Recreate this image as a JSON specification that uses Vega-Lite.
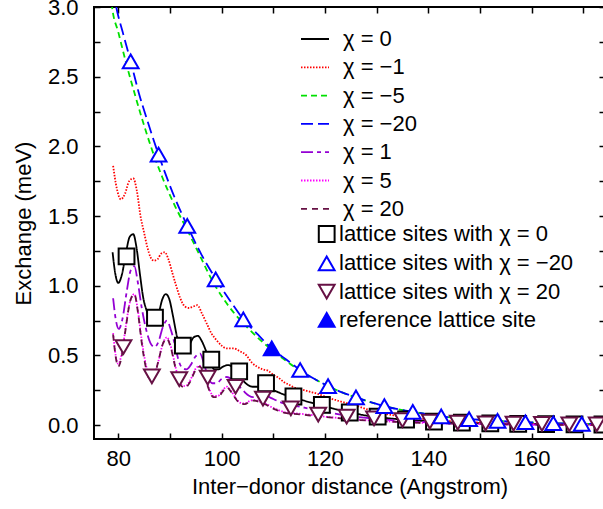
{
  "$schema": "https://vega.github.io/schema/vega-lite/v6.json",
  "width": 511,
  "height": 432,
  "autosize": "none",
  "padding": {"left": 94, "top": 7, "right": 0, "bottom": 70},
  "background": "white",
  "config": {
    "font": "Liberation Sans",
    "view": {"stroke": "black", "strokeWidth": 2},
    "axis": {"grid": false, "domain": false, "labelColor": "black", "tickColor": "black", "titleColor": "black", "labelFont": "Liberation Sans", "titleFont": "Liberation Sans", "labelFontSize": 22, "titleFontSize": 22, "titleFontWeight": "normal", "tickSize": -6, "tickWidth": 1.5, "labelOverlap": false, "labelFlush": false},
    "legend": {"labelFont": "Liberation Sans", "labelFontSize": 22, "labelColor": "black", "padding": 0, "labelLimit": 0}
  },
  "datasets": {
    "lines": [
      {"s":"χ = 0","x":78.9,"y":1.24},{"s":"χ = 0","x":79.4,"y":1.09},{"s":"χ = 0","x":80.0,"y":1.02},{"s":"χ = 0","x":80.7,"y":1.08},{"s":"χ = 0","x":81.5,"y":1.24},{"s":"χ = 0","x":82.2,"y":1.35},{"s":"χ = 0","x":82.9,"y":1.37},{"s":"χ = 0","x":83.5,"y":1.28},{"s":"χ = 0","x":84.2,"y":1.08},{"s":"χ = 0","x":84.8,"y":0.92},{"s":"χ = 0","x":85.5,"y":0.82},{"s":"χ = 0","x":86.3,"y":0.76},{"s":"χ = 0","x":87.0,"y":0.75},{"s":"χ = 0","x":87.8,"y":0.8},{"s":"χ = 0","x":88.5,"y":0.9},{"s":"χ = 0","x":89.2,"y":0.94},{"s":"χ = 0","x":89.9,"y":0.9},{"s":"χ = 0","x":90.6,"y":0.78},{"s":"χ = 0","x":91.4,"y":0.63},{"s":"χ = 0","x":92.2,"y":0.56},{"s":"χ = 0","x":93.0,"y":0.55},{"s":"χ = 0","x":93.8,"y":0.58},{"s":"χ = 0","x":94.6,"y":0.63},{"s":"χ = 0","x":95.4,"y":0.64},{"s":"χ = 0","x":96.2,"y":0.6},{"s":"χ = 0","x":97.0,"y":0.53},{"s":"χ = 0","x":97.8,"y":0.45},{"s":"χ = 0","x":98.6,"y":0.4},{"s":"χ = 0","x":99.4,"y":0.4},{"s":"χ = 0","x":100.3,"y":0.42},{"s":"χ = 0","x":101.2,"y":0.43},{"s":"χ = 0","x":102.0,"y":0.42},{"s":"χ = 0","x":102.8,"y":0.39},{"s":"χ = 0","x":103.6,"y":0.35},{"s":"χ = 0","x":104.4,"y":0.31},{"s":"χ = 0","x":105.2,"y":0.285},{"s":"χ = 0","x":106.0,"y":0.275},{"s":"χ = 0","x":107.0,"y":0.275},{"s":"χ = 0","x":108.0,"y":0.275},{"s":"χ = 0","x":109.0,"y":0.265},{"s":"χ = 0","x":110.0,"y":0.25},{"s":"χ = 0","x":111.0,"y":0.235},{"s":"χ = 0","x":112.0,"y":0.22},{"s":"χ = 0","x":113.0,"y":0.21},{"s":"χ = 0","x":114.0,"y":0.2},{"s":"χ = 0","x":116.0,"y":0.175},{"s":"χ = 0","x":118.0,"y":0.155},{"s":"χ = 0","x":120.0,"y":0.135},{"s":"χ = 0","x":122.0,"y":0.115},{"s":"χ = 0","x":124.0,"y":0.097},{"s":"χ = 0","x":126.0,"y":0.082},{"s":"χ = 0","x":128.0,"y":0.068},{"s":"χ = 0","x":130.0,"y":0.058},{"s":"χ = 0","x":133.0,"y":0.046},{"s":"χ = 0","x":136.0,"y":0.038},{"s":"χ = 0","x":140.0,"y":0.027},{"s":"χ = 0","x":145.0,"y":0.019},{"s":"χ = 0","x":150.0,"y":0.013},{"s":"χ = 0","x":155.0,"y":0.01},{"s":"χ = 0","x":160.0,"y":0.008},{"s":"χ = 0","x":165.0,"y":0.006},{"s":"χ = 0","x":170.0,"y":0.005},{"s":"χ = 0","x":174.2,"y":0.004},

      {"s":"χ = −1","x":79.0,"y":1.86},{"s":"χ = −1","x":79.7,"y":1.7},{"s":"χ = −1","x":80.5,"y":1.62},{"s":"χ = −1","x":81.3,"y":1.66},{"s":"χ = −1","x":82.1,"y":1.75},{"s":"χ = −1","x":82.9,"y":1.77},{"s":"χ = −1","x":83.6,"y":1.68},{"s":"χ = −1","x":84.3,"y":1.5},{"s":"χ = −1","x":85.0,"y":1.38},{"s":"χ = −1","x":85.6,"y":1.28},{"s":"χ = −1","x":86.3,"y":1.2},{"s":"χ = −1","x":86.9,"y":1.18},{"s":"χ = −1","x":87.6,"y":1.19},{"s":"χ = −1","x":88.3,"y":1.23},{"s":"χ = −1","x":89.0,"y":1.24},{"s":"χ = −1","x":89.7,"y":1.19},{"s":"χ = −1","x":90.4,"y":1.1},{"s":"χ = −1","x":91.2,"y":1.0},{"s":"χ = −1","x":92.0,"y":0.91},{"s":"χ = −1","x":92.9,"y":0.85},{"s":"χ = −1","x":93.7,"y":0.84},{"s":"χ = −1","x":94.5,"y":0.85},{"s":"χ = −1","x":95.3,"y":0.86},{"s":"χ = −1","x":96.2,"y":0.8},{"s":"χ = −1","x":97.1,"y":0.73},{"s":"χ = −1","x":98.0,"y":0.66},{"s":"χ = −1","x":99.0,"y":0.61},{"s":"χ = −1","x":100.0,"y":0.57},{"s":"χ = −1","x":101.0,"y":0.55},{"s":"χ = −1","x":102.3,"y":0.55},{"s":"χ = −1","x":103.5,"y":0.53},{"s":"χ = −1","x":104.8,"y":0.5},{"s":"χ = −1","x":105.8,"y":0.45},{"s":"χ = −1","x":106.8,"y":0.42},{"s":"χ = −1","x":108.0,"y":0.4},{"s":"χ = −1","x":109.0,"y":0.39},{"s":"χ = −1","x":110.0,"y":0.36},{"s":"χ = −1","x":111.0,"y":0.34},{"s":"χ = −1","x":112.0,"y":0.31},{"s":"χ = −1","x":113.0,"y":0.29},{"s":"χ = −1","x":114.0,"y":0.27},{"s":"χ = −1","x":115.5,"y":0.255},{"s":"χ = −1","x":117.0,"y":0.24},{"s":"χ = −1","x":118.5,"y":0.225},{"s":"χ = −1","x":120.0,"y":0.205},{"s":"χ = −1","x":122.0,"y":0.18},{"s":"χ = −1","x":124.0,"y":0.16},{"s":"χ = −1","x":126.0,"y":0.14},{"s":"χ = −1","x":128.0,"y":0.115},{"s":"χ = −1","x":130.0,"y":0.095},{"s":"χ = −1","x":132.0,"y":0.078},{"s":"χ = −1","x":134.0,"y":0.065},{"s":"χ = −1","x":136.0,"y":0.055},{"s":"χ = −1","x":140.0,"y":0.04},{"s":"χ = −1","x":145.0,"y":0.027},{"s":"χ = −1","x":150.0,"y":0.018},{"s":"χ = −1","x":155.0,"y":0.012},{"s":"χ = −1","x":160.0,"y":0.008},{"s":"χ = −1","x":165.0,"y":0.005},{"s":"χ = −1","x":170.0,"y":0.003},{"s":"χ = −1","x":174.2,"y":0.002},

      {"s":"χ = −5","x":78.5,"y":3.1},{"s":"χ = −5","x":78.8,"y":3.0},{"s":"χ = −5","x":80.0,"y":2.82},{"s":"χ = −5","x":81.5,"y":2.6},{"s":"χ = −5","x":83.0,"y":2.4},{"s":"χ = −5","x":84.5,"y":2.21},{"s":"χ = −5","x":86.3,"y":2.0},{"s":"χ = −5","x":88.5,"y":1.78},{"s":"χ = −5","x":91.0,"y":1.57},{"s":"χ = −5","x":93.35,"y":1.4},{"s":"χ = −5","x":96.0,"y":1.2},{"s":"χ = −5","x":98.0,"y":1.05},{"s":"χ = −5","x":100.1,"y":0.92},{"s":"χ = −5","x":102.5,"y":0.8},{"s":"χ = −5","x":105.0,"y":0.7},{"s":"χ = −5","x":107.5,"y":0.61},{"s":"χ = −5","x":109.7,"y":0.54},{"s":"χ = −5","x":112.5,"y":0.46},{"s":"χ = −5","x":115.2,"y":0.39},{"s":"χ = −5","x":118.0,"y":0.33},{"s":"χ = −5","x":120.6,"y":0.28},{"s":"χ = −5","x":123.3,"y":0.235},{"s":"χ = −5","x":126.0,"y":0.198},{"s":"χ = −5","x":128.8,"y":0.165},{"s":"χ = −5","x":131.5,"y":0.136},{"s":"χ = −5","x":134.2,"y":0.113},{"s":"χ = −5","x":137.0,"y":0.095},{"s":"χ = −5","x":140.0,"y":0.077},{"s":"χ = −5","x":142.6,"y":0.063},{"s":"χ = −5","x":145.3,"y":0.052},{"s":"χ = −5","x":148.0,"y":0.043},{"s":"χ = −5","x":151.0,"y":0.035},{"s":"χ = −5","x":153.4,"y":0.03},{"s":"χ = −5","x":156.0,"y":0.025},{"s":"χ = −5","x":158.8,"y":0.02},{"s":"χ = −5","x":161.5,"y":0.017},{"s":"χ = −5","x":164.2,"y":0.013},{"s":"χ = −5","x":167.0,"y":0.011},{"s":"χ = −5","x":169.7,"y":0.009},{"s":"χ = −5","x":174.2,"y":0.007},

      {"s":"χ = −20","x":79.0,"y":3.12},{"s":"χ = −20","x":79.6,"y":3.0},{"s":"χ = −20","x":81.0,"y":2.8},{"s":"χ = −20","x":82.4,"y":2.61},{"s":"χ = −20","x":84.0,"y":2.38},{"s":"χ = −20","x":85.5,"y":2.2},{"s":"χ = −20","x":87.8,"y":1.94},{"s":"χ = −20","x":90.5,"y":1.67},{"s":"χ = −20","x":93.35,"y":1.43},{"s":"χ = −20","x":96.0,"y":1.23},{"s":"χ = −20","x":98.85,"y":1.05},{"s":"χ = −20","x":101.5,"y":0.9},{"s":"χ = −20","x":104.2,"y":0.76},{"s":"χ = −20","x":107.0,"y":0.65},{"s":"χ = −20","x":109.7,"y":0.55},{"s":"χ = −20","x":112.5,"y":0.47},{"s":"χ = −20","x":115.2,"y":0.395},{"s":"χ = −20","x":118.0,"y":0.33},{"s":"χ = −20","x":120.6,"y":0.28},{"s":"χ = −20","x":123.3,"y":0.235},{"s":"χ = −20","x":126.0,"y":0.199},{"s":"χ = −20","x":128.8,"y":0.165},{"s":"χ = −20","x":131.5,"y":0.136},{"s":"χ = −20","x":134.2,"y":0.113},{"s":"χ = −20","x":137.0,"y":0.095},{"s":"χ = −20","x":140.0,"y":0.077},{"s":"χ = −20","x":142.6,"y":0.063},{"s":"χ = −20","x":145.3,"y":0.052},{"s":"χ = −20","x":148.0,"y":0.043},{"s":"χ = −20","x":151.0,"y":0.035},{"s":"χ = −20","x":153.4,"y":0.03},{"s":"χ = −20","x":156.0,"y":0.025},{"s":"χ = −20","x":158.8,"y":0.02},{"s":"χ = −20","x":161.5,"y":0.017},{"s":"χ = −20","x":164.2,"y":0.013},{"s":"χ = −20","x":167.0,"y":0.011},{"s":"χ = −20","x":169.7,"y":0.009},{"s":"χ = −20","x":174.2,"y":0.007},

      {"s":"χ = 1","x":79.0,"y":0.91},{"s":"χ = 1","x":79.5,"y":0.76},{"s":"χ = 1","x":80.1,"y":0.69},{"s":"χ = 1","x":80.8,"y":0.76},{"s":"χ = 1","x":81.6,"y":0.95},{"s":"χ = 1","x":82.4,"y":1.11},{"s":"χ = 1","x":83.1,"y":1.14},{"s":"χ = 1","x":83.8,"y":1.02},{"s":"χ = 1","x":84.5,"y":0.85},{"s":"χ = 1","x":85.3,"y":0.7},{"s":"χ = 1","x":86.2,"y":0.59},{"s":"χ = 1","x":87.0,"y":0.56},{"s":"χ = 1","x":87.8,"y":0.6},{"s":"χ = 1","x":88.6,"y":0.7},{"s":"χ = 1","x":89.4,"y":0.75},{"s":"χ = 1","x":90.2,"y":0.68},{"s":"χ = 1","x":91.0,"y":0.57},{"s":"χ = 1","x":91.7,"y":0.46},{"s":"χ = 1","x":92.4,"y":0.41},{"s":"χ = 1","x":93.2,"y":0.4},{"s":"χ = 1","x":94.0,"y":0.43},{"s":"χ = 1","x":94.9,"y":0.49},{"s":"χ = 1","x":95.8,"y":0.515},{"s":"χ = 1","x":96.6,"y":0.44},{"s":"χ = 1","x":97.4,"y":0.34},{"s":"χ = 1","x":98.2,"y":0.3},{"s":"χ = 1","x":99.0,"y":0.3},{"s":"χ = 1","x":100.0,"y":0.33},{"s":"χ = 1","x":101.0,"y":0.345},{"s":"χ = 1","x":101.9,"y":0.33},{"s":"χ = 1","x":102.8,"y":0.3},{"s":"χ = 1","x":103.6,"y":0.27},{"s":"χ = 1","x":104.5,"y":0.235},{"s":"χ = 1","x":105.3,"y":0.21},{"s":"χ = 1","x":106.1,"y":0.2},{"s":"χ = 1","x":107.0,"y":0.205},{"s":"χ = 1","x":108.0,"y":0.21},{"s":"χ = 1","x":108.7,"y":0.21},{"s":"χ = 1","x":109.5,"y":0.195},{"s":"χ = 1","x":110.4,"y":0.18},{"s":"χ = 1","x":111.3,"y":0.165},{"s":"χ = 1","x":112.5,"y":0.15},{"s":"χ = 1","x":114.0,"y":0.14},{"s":"χ = 1","x":116.0,"y":0.125},{"s":"χ = 1","x":118.0,"y":0.11},{"s":"χ = 1","x":120.0,"y":0.095},{"s":"χ = 1","x":123.0,"y":0.075},{"s":"χ = 1","x":126.0,"y":0.06},{"s":"χ = 1","x":130.0,"y":0.045},{"s":"χ = 1","x":135.0,"y":0.03},{"s":"χ = 1","x":140.0,"y":0.02},{"s":"χ = 1","x":145.0,"y":0.013},{"s":"χ = 1","x":150.0,"y":0.009},{"s":"χ = 1","x":155.0,"y":0.006},{"s":"χ = 1","x":160.0,"y":0.004},{"s":"χ = 1","x":167.0,"y":0.003},{"s":"χ = 1","x":174.2,"y":0.002},

      {"s":"χ = 5","x":79.0,"y":0.66},{"s":"χ = 5","x":79.5,"y":0.5},{"s":"χ = 5","x":80.0,"y":0.44},{"s":"χ = 5","x":80.7,"y":0.52},{"s":"χ = 5","x":81.5,"y":0.72},{"s":"χ = 5","x":82.3,"y":0.89},{"s":"χ = 5","x":83.1,"y":0.94},{"s":"χ = 5","x":83.8,"y":0.82},{"s":"χ = 5","x":84.5,"y":0.62},{"s":"χ = 5","x":85.3,"y":0.44},{"s":"χ = 5","x":86.1,"y":0.35},{"s":"χ = 5","x":86.9,"y":0.36},{"s":"χ = 5","x":87.7,"y":0.45},{"s":"χ = 5","x":88.6,"y":0.58},{"s":"χ = 5","x":89.4,"y":0.63},{"s":"χ = 5","x":90.2,"y":0.56},{"s":"χ = 5","x":91.0,"y":0.43},{"s":"χ = 5","x":91.6,"y":0.34},{"s":"χ = 5","x":92.2,"y":0.29},{"s":"χ = 5","x":93.0,"y":0.28},{"s":"χ = 5","x":93.9,"y":0.32},{"s":"χ = 5","x":94.9,"y":0.4},{"s":"χ = 5","x":95.8,"y":0.425},{"s":"χ = 5","x":96.7,"y":0.36},{"s":"χ = 5","x":97.6,"y":0.26},{"s":"χ = 5","x":98.4,"y":0.21},{"s":"χ = 5","x":99.3,"y":0.21},{"s":"χ = 5","x":100.2,"y":0.25},{"s":"χ = 5","x":101.0,"y":0.275},{"s":"χ = 5","x":101.9,"y":0.24},{"s":"χ = 5","x":102.8,"y":0.19},{"s":"χ = 5","x":103.6,"y":0.16},{"s":"χ = 5","x":104.5,"y":0.155},{"s":"χ = 5","x":105.3,"y":0.17},{"s":"χ = 5","x":106.1,"y":0.18},{"s":"χ = 5","x":107.0,"y":0.175},{"s":"χ = 5","x":107.8,"y":0.16},{"s":"χ = 5","x":108.7,"y":0.15},{"s":"χ = 5","x":109.6,"y":0.13},{"s":"χ = 5","x":110.5,"y":0.115},{"s":"χ = 5","x":111.5,"y":0.1},{"s":"χ = 5","x":112.6,"y":0.09},{"s":"χ = 5","x":114.0,"y":0.085},{"s":"χ = 5","x":116.0,"y":0.078},{"s":"χ = 5","x":118.0,"y":0.07},{"s":"χ = 5","x":120.0,"y":0.06},{"s":"χ = 5","x":123.0,"y":0.05},{"s":"χ = 5","x":126.0,"y":0.04},{"s":"χ = 5","x":130.0,"y":0.03},{"s":"χ = 5","x":135.0,"y":0.022},{"s":"χ = 5","x":140.0,"y":0.015},{"s":"χ = 5","x":145.0,"y":0.01},{"s":"χ = 5","x":150.0,"y":0.007},{"s":"χ = 5","x":155.0,"y":0.005},{"s":"χ = 5","x":160.0,"y":0.003},{"s":"χ = 5","x":167.0,"y":0.002},{"s":"χ = 5","x":174.2,"y":0.001},

      {"s":"χ = 20","x":79.0,"y":0.65},{"s":"χ = 20","x":79.5,"y":0.49},{"s":"χ = 20","x":80.0,"y":0.42},{"s":"χ = 20","x":80.7,"y":0.5},{"s":"χ = 20","x":81.5,"y":0.71},{"s":"χ = 20","x":82.3,"y":0.89},{"s":"χ = 20","x":83.1,"y":0.94},{"s":"χ = 20","x":83.8,"y":0.81},{"s":"χ = 20","x":84.5,"y":0.6},{"s":"χ = 20","x":85.3,"y":0.42},{"s":"χ = 20","x":86.1,"y":0.33},{"s":"χ = 20","x":86.9,"y":0.35},{"s":"χ = 20","x":87.7,"y":0.45},{"s":"χ = 20","x":88.6,"y":0.58},{"s":"χ = 20","x":89.4,"y":0.62},{"s":"χ = 20","x":90.2,"y":0.55},{"s":"χ = 20","x":91.0,"y":0.42},{"s":"χ = 20","x":91.6,"y":0.33},{"s":"χ = 20","x":92.2,"y":0.28},{"s":"χ = 20","x":93.0,"y":0.27},{"s":"χ = 20","x":93.9,"y":0.31},{"s":"χ = 20","x":94.9,"y":0.39},{"s":"χ = 20","x":95.8,"y":0.42},{"s":"χ = 20","x":96.7,"y":0.35},{"s":"χ = 20","x":97.6,"y":0.25},{"s":"χ = 20","x":98.4,"y":0.2},{"s":"χ = 20","x":99.3,"y":0.2},{"s":"χ = 20","x":100.2,"y":0.24},{"s":"χ = 20","x":101.0,"y":0.27},{"s":"χ = 20","x":101.9,"y":0.235},{"s":"χ = 20","x":102.8,"y":0.185},{"s":"χ = 20","x":103.6,"y":0.155},{"s":"χ = 20","x":104.5,"y":0.15},{"s":"χ = 20","x":105.3,"y":0.165},{"s":"χ = 20","x":106.1,"y":0.175},{"s":"χ = 20","x":107.0,"y":0.17},{"s":"χ = 20","x":107.8,"y":0.155},{"s":"χ = 20","x":108.7,"y":0.145},{"s":"χ = 20","x":109.6,"y":0.125},{"s":"χ = 20","x":110.5,"y":0.11},{"s":"χ = 20","x":111.5,"y":0.095},{"s":"χ = 20","x":112.6,"y":0.085},{"s":"χ = 20","x":114.0,"y":0.08},{"s":"χ = 20","x":116.0,"y":0.073},{"s":"χ = 20","x":118.0,"y":0.066},{"s":"χ = 20","x":120.0,"y":0.058},{"s":"χ = 20","x":123.0,"y":0.048},{"s":"χ = 20","x":126.0,"y":0.038},{"s":"χ = 20","x":130.0,"y":0.029},{"s":"χ = 20","x":135.0,"y":0.021},{"s":"χ = 20","x":140.0,"y":0.014},{"s":"χ = 20","x":145.0,"y":0.01},{"s":"χ = 20","x":150.0,"y":0.007},{"s":"χ = 20","x":155.0,"y":0.005},{"s":"χ = 20","x":160.0,"y":0.003},{"s":"χ = 20","x":167.0,"y":0.002},{"s":"χ = 20","x":174.2,"y":0.001}
    ],
    "sites": [
      {"k":"lattice sites with χ = 0","x":81.6,"y":1.21},{"k":"lattice sites with χ = 0","x":87.1,"y":0.77},{"k":"lattice sites with χ = 0","x":92.5,"y":0.57},{"k":"lattice sites with χ = 0","x":98.0,"y":0.47},{"k":"lattice sites with χ = 0","x":103.4,"y":0.385},{"k":"lattice sites with χ = 0","x":108.6,"y":0.3},{"k":"lattice sites with χ = 0","x":113.9,"y":0.205},{"k":"lattice sites with χ = 0","x":119.4,"y":0.145},{"k":"lattice sites with χ = 0","x":124.8,"y":0.09},{"k":"lattice sites with χ = 0","x":130.2,"y":0.06},{"k":"lattice sites with χ = 0","x":135.7,"y":0.04},{"k":"lattice sites with χ = 0","x":141.1,"y":0.025},{"k":"lattice sites with χ = 0","x":146.5,"y":0.017},{"k":"lattice sites with χ = 0","x":152.0,"y":0.012},{"k":"lattice sites with χ = 0","x":157.4,"y":0.009},{"k":"lattice sites with χ = 0","x":162.8,"y":0.007},{"k":"lattice sites with χ = 0","x":168.3,"y":0.005},{"k":"lattice sites with χ = 0","x":173.7,"y":0.004},
      {"k":"lattice sites with χ = 20","x":81.0,"y":0.56},{"k":"lattice sites with χ = 20","x":86.5,"y":0.35},{"k":"lattice sites with χ = 20","x":91.8,"y":0.33},{"k":"lattice sites with χ = 20","x":97.3,"y":0.34},{"k":"lattice sites with χ = 20","x":102.7,"y":0.275},{"k":"lattice sites with χ = 20","x":108.0,"y":0.19},{"k":"lattice sites with χ = 20","x":113.4,"y":0.12},{"k":"lattice sites with χ = 20","x":118.7,"y":0.075},{"k":"lattice sites with χ = 20","x":124.2,"y":0.06},{"k":"lattice sites with χ = 20","x":129.5,"y":0.048},{"k":"lattice sites with χ = 20","x":135.0,"y":0.036},{"k":"lattice sites with χ = 20","x":140.3,"y":0.024},{"k":"lattice sites with χ = 20","x":145.7,"y":0.017},{"k":"lattice sites with χ = 20","x":151.1,"y":0.012},{"k":"lattice sites with χ = 20","x":156.5,"y":0.01},{"k":"lattice sites with χ = 20","x":162.0,"y":0.008},{"k":"lattice sites with χ = 20","x":167.3,"y":0.006},{"k":"lattice sites with χ = 20","x":172.6,"y":0.005},
      {"k":"lattice sites with χ = −20","x":82.4,"y":2.61},{"k":"lattice sites with χ = −20","x":87.8,"y":1.94},{"k":"lattice sites with χ = −20","x":93.35,"y":1.43},{"k":"lattice sites with χ = −20","x":98.85,"y":1.046},{"k":"lattice sites with χ = −20","x":104.2,"y":0.759},{"k":"lattice sites with χ = −20","x":115.2,"y":0.395},{"k":"lattice sites with χ = −20","x":120.6,"y":0.28},{"k":"lattice sites with χ = −20","x":126.0,"y":0.199},{"k":"lattice sites with χ = −20","x":131.5,"y":0.136},{"k":"lattice sites with χ = −20","x":137.0,"y":0.095},{"k":"lattice sites with χ = −20","x":142.5,"y":0.063},{"k":"lattice sites with χ = −20","x":147.9,"y":0.043},{"k":"lattice sites with χ = −20","x":153.4,"y":0.03},{"k":"lattice sites with χ = −20","x":158.8,"y":0.02},{"k":"lattice sites with χ = −20","x":164.2,"y":0.013},{"k":"lattice sites with χ = −20","x":169.7,"y":0.008},
      {"k":"reference lattice site","x":109.7,"y":0.55}
    ]
  },
  "layer": [
    {
      "data": {"name": "lines"},
      "mark": {"type": "line", "clip": true, "strokeWidth": 1.8, "interpolate": "monotone"},
      "encoding": {
        "x": {"field": "x", "type": "quantitative", "scale": {"domain": [75.3, 174.2], "nice": false, "zero": false},
              "axis": {"orient": "bottom", "values": [80, 90, 100, 110, 120, 130, 140, 150, 160, 170], "labelExpr": "datum.value % 20 === 0 ? datum.label : ''", "format": "d", "labelPadding": 15, "title": "Inter−donor distance (Angstrom)", "titlePadding": 7}},
        "y": {"field": "y", "type": "quantitative", "scale": {"domain": [-0.1, 3.0], "nice": false, "zero": false},
              "axis": {"orient": "left", "values": [0, 0.25, 0.5, 0.75, 1, 1.25, 1.5, 1.75, 2, 2.25, 2.5, 2.75, 3], "labelExpr": "(datum.value * 2) % 1 === 0 ? format(datum.value, '.1f') : ''", "labelPadding": 22, "title": "Exchange (meV)", "titlePadding": 12}},
        "color": {"field": "s", "type": "nominal",
                  "scale": {"domain": ["χ = 0", "χ = −1", "χ = −5", "χ = −20", "χ = 1", "χ = 5", "χ = 20"], "range": ["#000000", "#ff0000", "#00e000", "#0000ff", "#9400d3", "#ff00ff", "#661144"]},
                  "legend": {"orient": "none", "legendX": 206, "legendY": 17, "title": null, "symbolType": "stroke", "symbolSize": 784, "symbolStrokeWidth": 1.8, "labelOffset": 13, "rowPadding": 2.3}},
        "strokeDash": {"field": "s", "type": "nominal",
                  "scale": {"domain": ["χ = 0", "χ = −1", "χ = −5", "χ = −20", "χ = 1", "χ = 5", "χ = 20"], "range": [[1, 0], [1.5, 1.5], [6, 4], [12, 5], [12, 4, 4, 4], [1.5, 1.5], [6, 5]]},
                  "legend": {"orient": "none", "legendX": 206, "legendY": 17, "title": null, "symbolType": "stroke", "symbolSize": 784, "symbolStrokeWidth": 1.8, "labelOffset": 13, "rowPadding": 2.3}}
      }
    },
    {
      "data": {"name": "sites"},
      "mark": {"type": "point", "clip": true, "size": 250, "strokeWidth": 2, "opacity": 1},
      "encoding": {
        "x": {"field": "x", "type": "quantitative", "axis": {"orient": "top", "values": [80, 90, 100, 110, 120, 130, 140, 150, 160, 170], "labels": false, "title": null}},
        "y": {"field": "y", "type": "quantitative", "axis": {"orient": "right", "values": [0, 0.25, 0.5, 0.75, 1, 1.25, 1.5, 1.75, 2, 2.25, 2.5, 2.75, 3], "labels": false, "title": null}},
        "shape": {"field": "k", "type": "nominal", "sort": null,
                  "scale": {"domain": ["lattice sites with χ = 0", "lattice sites with χ = −20", "lattice sites with χ = 20", "reference lattice site"], "range": ["square", "triangle-up", "triangle-down", "triangle-up"]},
                  "legend": {"orient": "none", "legendX": 221.7, "legendY": 216, "title": null, "symbolSize": 250, "symbolStrokeWidth": 2, "labelOffset": 1.3, "rowPadding": 6.3}},
        "stroke": {"field": "k", "type": "nominal", "sort": null,
                  "scale": {"domain": ["lattice sites with χ = 0", "lattice sites with χ = −20", "lattice sites with χ = 20", "reference lattice site"], "range": ["#000000", "#0000ff", "#661144", "#0000ff"]},
                  "legend": {"orient": "none", "legendX": 221.7, "legendY": 216, "title": null, "symbolSize": 250, "symbolStrokeWidth": 2, "labelOffset": 1.3, "rowPadding": 6.3}},
        "fill": {"field": "k", "type": "nominal", "sort": null,
                  "scale": {"domain": ["lattice sites with χ = 0", "lattice sites with χ = −20", "lattice sites with χ = 20", "reference lattice site"], "range": ["#ffffff", "#ffffff", "#ffffff", "#0000ff"]},
                  "legend": {"orient": "none", "legendX": 221.7, "legendY": 216, "title": null, "symbolSize": 250, "symbolStrokeWidth": 2, "labelOffset": 1.3, "rowPadding": 6.3}}
      }
    }
  ],
  "resolve": {"axis": {"x": "independent", "y": "independent"}}
}
